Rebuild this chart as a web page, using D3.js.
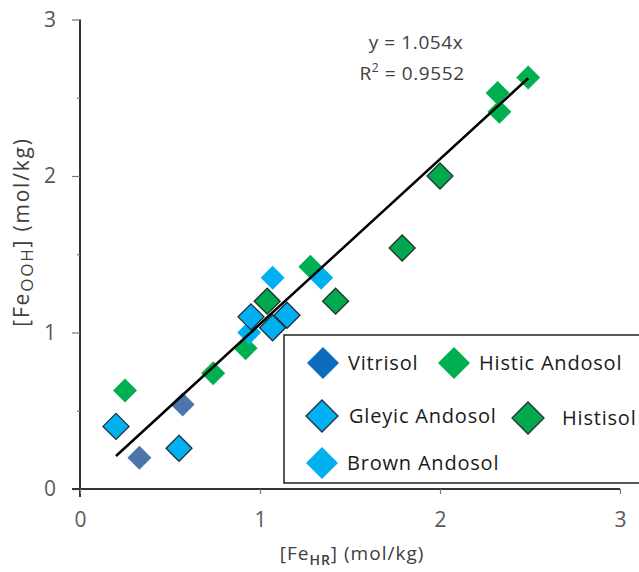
<!DOCTYPE html>
<html lang="en">
<head>
<meta charset="utf-8">
<title>FeOOH vs FeHR</title>
<script src="https://cdnjs.cloudflare.com/ajax/libs/d3/7.8.5/d3.min.js"></script>
<style>
  body { margin: 0; background: #fff; }
  text { font-family: "Open Sans", sans-serif; }
</style>
</head>
<body>
<div id="viz"></div>
<script>
// soil groups (legend order)
const groups = ["Vitrisol", "Histic Andosol", "Gleyic Andosol", "Histisol", "Brown Andosol"];

// [Fe_HR], [Fe_OOH] per group
const vitrisolX = [0.33, 0.57];
const vitrisolY = [0.20, 0.54];
const histicX = [0.25, 0.74, 0.92, 1.28, 2.32, 2.33, 2.49];
const histicY = [0.63, 0.74, 0.90, 1.42, 2.53, 2.41, 2.63];
const gleyicX = [0.20, 0.55, 0.95, 1.07, 1.15];
const gleyicY = [0.40, 0.26, 1.10, 1.03, 1.11];
const histisolX = [1.04, 1.42, 1.79, 2.00];
const histisolY = [1.20, 1.20, 1.54, 2.00];
const brownX = [0.94, 1.07, 1.34];
const brownY = [1.00, 1.35, 1.35];

const xTicks = [0, 1, 2, 3];
const yTicks = [0, 1, 2, 3];
const yMinorTicks = [0.5, 1.5, 2.5];

// trend line y = 1.054x
const slope = 1.054;
const fitRange = [0.2, 2.49];

const width = 639, height = 572;

const svg = d3.select("#viz").append("svg")
  .attr("width", width)
  .attr("height", height);

const x = d3.scaleLinear().domain([0, 3]).range([80, 620]);
const y = d3.scaleLinear().domain([0, 3]).range([489, 19.5]);

const style = {
  "Vitrisol":       { fill: "#4a75ad", stroke: "none", legendFill: "#0b6cbd" },
  "Histic Andosol": { fill: "#00b050", stroke: "none", legendFill: "#00b050" },
  "Gleyic Andosol": { fill: "#00b0f0", stroke: "#1f2f3a", legendFill: "#00b0f0" },
  "Histisol":       { fill: "#00a84f", stroke: "#1f3326", legendFill: "#00a84f" },
  "Brown Andosol":  { fill: "#00b0f0", stroke: "none", legendFill: "#00b0f0" }
};

const series = [
  ["Vitrisol", vitrisolX, vitrisolY],
  ["Histic Andosol", histicX, histicY],
  ["Histisol", histisolX, histisolY],
  ["Brown Andosol", brownX, brownY],
  ["Gleyic Andosol", gleyicX, gleyicY]
];

function diamond(r) {
  return `M0,${-r}L${r},0L0,${r}L${-r},0Z`;
}

// axes
const yAxis = svg.append("g")
  .attr("transform", `translate(${x(0)},0)`)
  .call(d3.axisLeft(y).tickValues(yTicks).tickFormat(d3.format("d")).tickSize(8).tickPadding(16));
yAxis.select(".domain").attr("d", `M0,${y(3)}V${y(0) + 8}`);

svg.append("g")
  .attr("transform", `translate(${x(0)},0)`)
  .call(d3.axisLeft(y).tickValues(yMinorTicks).tickFormat("").tickSize(3))
  .select(".domain").remove();

const xAxis = svg.append("g")
  .attr("transform", `translate(0,${y(0)})`)
  .call(d3.axisBottom(x).tickValues(xTicks).tickFormat(d3.format("d")).tickSize(5).tickPadding(18));
xAxis.select(".domain").attr("d", `M${x(0) - 8},0H${x(3)}`);

svg.selectAll(".domain").attr("stroke", "#333").attr("stroke-width", 2);
svg.selectAll(".tick line").attr("stroke", "#777").attr("stroke-width", 1.2);
svg.selectAll(".tick text")
  .attr("fill", "#595959")
  .attr("font-size", 21)
  .attr("font-family", "Open Sans, sans-serif");

// points
series.forEach(([name, xs, ys]) => {
  const s = style[name];
  svg.append("g")
    .selectAll("path")
    .data(xs.map((v, i) => [v, ys[i]]))
    .join("path")
      .attr("d", diamond(s.stroke === "none" ? 12 : 13))
      .attr("transform", d => `translate(${x(d[0])},${y(d[1])})`)
      .attr("fill", s.fill)
      .attr("stroke", s.stroke)
      .attr("stroke-width", 1.3);
});

// trend line
svg.append("line")
  .attr("x1", x(fitRange[0])).attr("y1", y(fitRange[0] * slope))
  .attr("x2", x(fitRange[1])).attr("y2", y(fitRange[1] * slope))
  .attr("stroke", "#000")
  .attr("stroke-width", 2.5);

// equation
const eq = svg.append("g").attr("fill", "#404040").attr("font-size", 19).attr("letter-spacing", 0.6);
eq.append("text").attr("x", 416).attr("y", 49).attr("text-anchor", "middle").text("y = 1.054x");
const r2 = eq.append("text").attr("x", 412).attr("y", 80).attr("text-anchor", "middle");
r2.append("tspan").text("R");
r2.append("tspan").attr("font-size", 12).attr("dy", -8).text("2");
r2.append("tspan").attr("dy", 8).text(" = 0.9552");

// axis titles
const xt = svg.append("text")
  .attr("x", 352).attr("y", 560)
  .attr("text-anchor", "middle")
  .attr("fill", "#404040")
  .attr("font-size", 19)
  .attr("letter-spacing", 1);
xt.append("tspan").text("[Fe");
xt.append("tspan").attr("font-size", 14).attr("dy", 5).attr("font-weight", 600).text("HR");
xt.append("tspan").attr("dy", -5).text("] (mol/kg)");

const yt = svg.append("text")
  .attr("transform", "translate(29,232) rotate(-90)")
  .attr("text-anchor", "middle")
  .attr("fill", "#404040")
  .attr("font-size", 21)
  .attr("letter-spacing", 1.8);
yt.append("tspan").text("[Fe");
yt.append("tspan").attr("font-size", 17).attr("dy", 4).text("OOH");
yt.append("tspan").attr("dy", -4).text("] (mol/kg)");

// legend
const legend = svg.append("g");
legend.append("rect")
  .attr("x", 284).attr("y", 335)
  .attr("width", 370).attr("height", 148)
  .attr("fill", "#fff")
  .attr("stroke", "#222")
  .attr("stroke-width", 1.5);

const legendPos = [
  [323, 363, 348], [454, 363, 479],
  [322, 416, 349], [528, 418, 562],
  [322, 463, 347]
];
groups.forEach((name, i) => {
  const [mx, my, tx] = legendPos[i];
  const s = style[name];
  legend.append("path")
    .attr("d", diamond(16))
    .attr("transform", `translate(${mx},${my})`)
    .attr("fill", s.legendFill)
    .attr("stroke", s.stroke)
    .attr("stroke-width", 1.3);
  legend.append("text")
    .attr("x", tx).attr("y", my + 7)
    .attr("fill", "#1a1a1a")
    .attr("font-size", 20)
    .attr("letter-spacing", 0.8)
    .text(name);
});
</script>
</body>
</html>
